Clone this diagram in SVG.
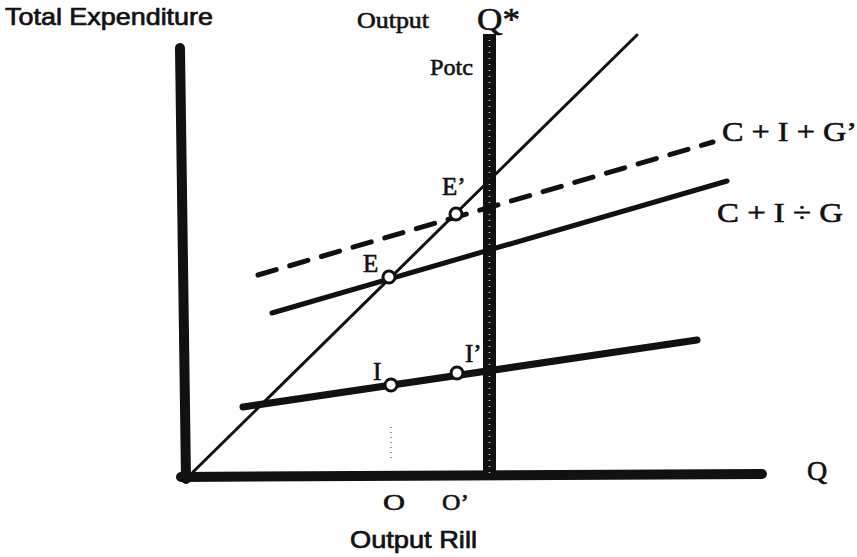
<svg xmlns="http://www.w3.org/2000/svg" width="857" height="557" viewBox="0 0 857 557">
  <style>
    .sans { font-family: "Liberation Sans", Arial, sans-serif; fill: #111; stroke: #111; stroke-width: 0.7; }
    .serif { font-family: "Liberation Serif", "Times New Roman", serif; fill: #111; stroke: #111; stroke-width: 0.6; }
    .pt { fill: #fff; stroke: #111; stroke-width: 3; }
    .ln { stroke: #111; fill: none; stroke-linecap: round; }
  </style>
  <rect width="857" height="557" fill="#fff"/>

  <g id="axes">
    <line class="ln" x1="180" y1="48" x2="186" y2="479" stroke-width="10" stroke-linecap="butt"/>
    <line class="ln" x1="181" y1="477" x2="762" y2="474" stroke-width="10" stroke-linecap="butt"/>
  </g>

  <g id="potential-output-line">
    <rect x="483" y="34" width="13" height="442" fill="#111"/>
    <line x1="489.5" y1="40" x2="489.5" y2="474" stroke="#fff" stroke-width="1.6" stroke-dasharray="1 5" opacity="0.8"/>
  </g>

  <g id="connectors">
    <line class="ln" x1="193" y1="472" x2="637" y2="35" stroke-width="3"/>
    <line class="ln" x1="258" y1="275" x2="713" y2="142" stroke-width="5" stroke-dasharray="19 14" stroke-linecap="butt"/>
    <line class="ln" x1="272" y1="313" x2="727" y2="181" stroke-width="5"/>
    <line class="ln" x1="243" y1="407" x2="697" y2="340" stroke-width="7"/>
    <line x1="391" y1="427" x2="391" y2="458" stroke="#555" stroke-width="1.2" stroke-dasharray="1 4"/>
  </g>

  <g id="node-E"><circle class="pt" cx="389" cy="277" r="6"/><text class="serif" x="363" y="272" font-size="25">E</text></g>
  <g id="node-E-prime"><circle class="pt" cx="456" cy="214" r="6"/><text class="serif" x="442" y="195" font-size="25">E’</text></g>
  <g id="node-I"><circle class="pt" cx="391" cy="385" r="6"/><text class="serif" x="373" y="380" font-size="25">I</text></g>
  <g id="node-I-prime"><circle class="pt" cx="457" cy="373" r="6"/><text class="serif" x="465" y="362" font-size="25">I’</text></g>

  <g id="labels">
    <text class="sans" x="5" y="25" font-size="24" textLength="208" lengthAdjust="spacingAndGlyphs">Total Expenditure</text>
    <text class="sans" x="350" y="548" font-size="24" textLength="127" lengthAdjust="spacingAndGlyphs">Output Rill</text>
    <text class="serif" x="357" y="28" font-size="23" textLength="72" lengthAdjust="spacingAndGlyphs">Output</text>
    <text class="serif" x="477" y="30" font-size="32" textLength="43" lengthAdjust="spacingAndGlyphs">Q*</text>
    <text class="serif" x="430" y="75" font-size="24" textLength="43" lengthAdjust="spacingAndGlyphs">Potc</text>
    <text class="serif" x="722" y="141" font-size="28" textLength="135" lengthAdjust="spacingAndGlyphs">C + I + G’</text>
    <text class="serif" x="717" y="222" font-size="28" textLength="126" lengthAdjust="spacingAndGlyphs">C + I ÷ G</text>
    <text class="serif" x="383" y="510" font-size="24" textLength="22" lengthAdjust="spacingAndGlyphs">O</text>
    <text class="serif" x="442" y="510" font-size="24" textLength="27" lengthAdjust="spacingAndGlyphs">O’</text>
    <text class="serif" x="807" y="480" font-size="28">Q</text>
  </g>
</svg>
